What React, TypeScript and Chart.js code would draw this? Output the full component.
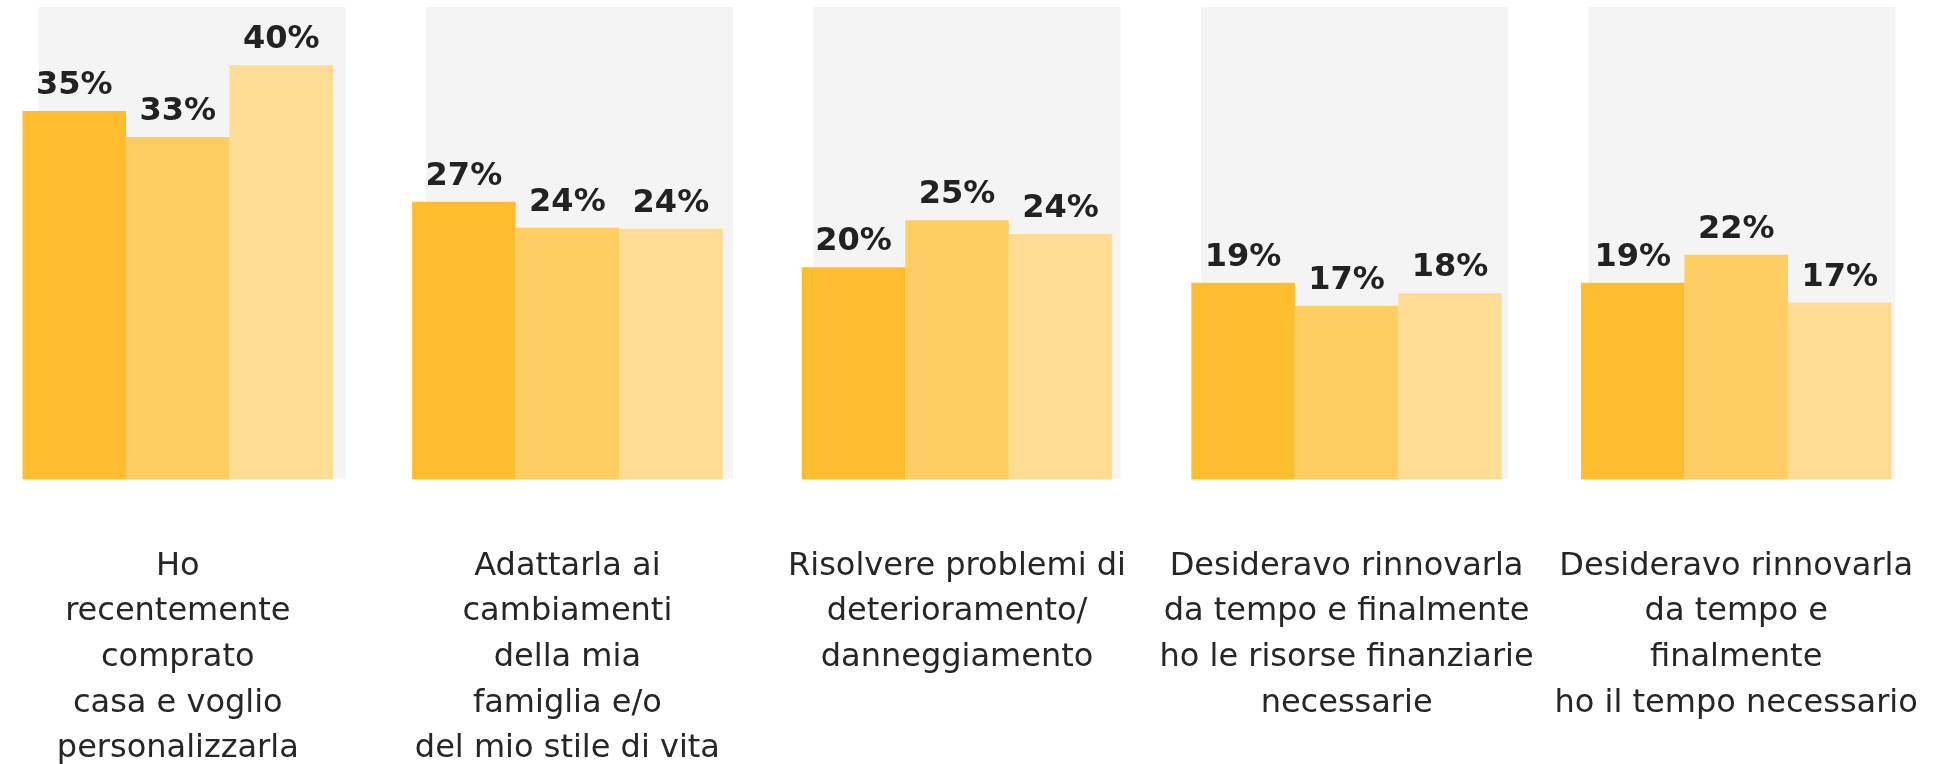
import React, { useEffect, useRef } from "react";
import { Chart, registerables } from "chart.js";

Chart.register(...registerables);

// ---- data ----
const categories: string[][] = [
  ["Ho", "recentemente", "comprato", "casa e voglio", "personalizzarla"],
  ["Adattarla ai", "cambiamenti", "della mia", "famiglia e/o", "del mio stile di vita"],
  ["Risolvere problemi di", "deterioramento/", "danneggiamento"],
  ["Desideravo rinnovarla", "da tempo e finalmente", "ho le risorse finanziarie", "necessarie"],
  ["Desideravo rinnovarla", "da tempo e", "finalmente", "ho il tempo necessario"],
];

const series1: number[] = [35.4, 26.7, 20.4, 18.9, 18.9];
const series2: number[] = [32.9, 24.2, 24.9, 16.7, 21.6];
const series3: number[] = [39.8, 24.1, 23.6, 17.9, 17.0];

const yMax = 45.4;
const backgroundValues: number[] = [45.4, 45.4, 45.4, 45.4, 45.4];
const backgroundPositions: number[] = [0, 1, 2, 3, 4];

const FONT = '"DejaVu Sans", Verdana, sans-serif';
const TEXT = "#262626";

// grey panels behind each group, placed through the hidden "xBg" scale and the y scale
const backgroundPanels = {
  id: "backgroundPanels",
  beforeDatasetsDraw(chart: any) {
    const xs = chart.scales.xBg;
    const ys = chart.scales.y;
    const ctx = chart.ctx;
    const panelWidth = 307;
    ctx.save();
    ctx.fillStyle = "#F4F4F4";
    backgroundPositions.forEach((p, i) => {
      const cx = xs.getPixelForValue(p);
      const top = ys.getPixelForValue(backgroundValues[i]);
      const bottom = ys.getPixelForValue(0) - 1;
      ctx.fillRect(cx - panelWidth / 2, top, panelWidth, bottom - top);
    });
    ctx.restore();
  },
};

const valueLabels = {
  id: "valueLabels",
  afterDatasetsDraw(chart: any) {
    const ctx = chart.ctx;
    ctx.save();
    ctx.font = `bold 32px ${FONT}`;
    ctx.fillStyle = "#222222";
    ctx.textAlign = "center";
    ctx.textBaseline = "alphabetic";
    chart.data.datasets.forEach((ds: any, di: number) => {
      const meta = chart.getDatasetMeta(di);
      meta.data.forEach((el: any, i: number) => {
        ctx.fillText(`${Math.round(ds.data[i])}%`, el.x, el.y - 17);
      });
    });
    ctx.restore();
  },
};

export default function App() {
  const ref = useRef<HTMLCanvasElement | null>(null);

  useEffect(() => {
    if (!ref.current) return;
    const chart = new Chart(ref.current, {
      type: "bar",
      data: {
        labels: categories as any,
        datasets: [
          { label: "Serie 1", data: series1, backgroundColor: "#FFBD2E" },
          { label: "Serie 2", data: series2, backgroundColor: "#FECE63" },
          { label: "Serie 3", data: series3, backgroundColor: "#FEDC93" },
        ],
      },
      options: {
        responsive: false,
        animation: false,
        datasets: {
          bar: { categoryPercentage: 0.797, barPercentage: 1, borderWidth: 0 },
        },
        layout: { padding: { left: 0, right: 26, top: 7, bottom: 0 } },
        plugins: {
          legend: { display: false },
          tooltip: { enabled: false },
        },
        scales: {
          x: {
            type: "category",
            offset: true,
            grid: { display: false, drawTicks: true, tickLength: 64 },
            border: { display: false },
            ticks: {
              autoSkip: false,
              maxRotation: 0,
              minRotation: 0,
              padding: 0,
              color: TEXT,
              font: { family: FONT, size: 32, lineHeight: 1.428 },
            },
          },
          xBg: {
            type: "linear",
            display: false,
            offset: false,
            grid: { offset: false },
            bounds: "data",
            min: -0.5394,
            max: 4.488,
            ticks: { stepSize: 1, includeBounds: false },
          },
          y: {
            display: false,
            min: 0,
            max: yMax,
          },
        },
      } as any,
      plugins: [backgroundPanels, valueLabels],
    });
    return () => chart.destroy();
  }, []);

  return (
    <div
      style={{
        position: "fixed",
        left: 0,
        top: 0,
        width: "1957px",
        height: "764px",
        overflow: "hidden",
        background: "#ffffff",
      }}
    >
      <canvas
        ref={ref}
        width={1974}
        height={772}
        style={{ position: "absolute", left: "-17px", top: 0, width: "1974px", height: "772px" }}
      />
    </div>
  );
}
